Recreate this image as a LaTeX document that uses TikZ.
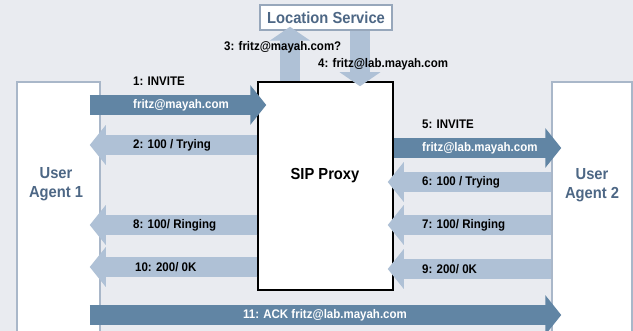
\documentclass[tikz,border=0pt]{standalone}
\usepackage{fontspec}
\setmainfont{Liberation Sans}[FakeStretch=0.92]
\usetikzlibrary{arrows.meta}

\definecolor{bg}{HTML}{E9EBF0}
\definecolor{darkflow}{HTML}{6185A4}
\definecolor{lightflow}{HTML}{AFC1D6}
\definecolor{agentline}{HTML}{A9B7C9}
\definecolor{agenttext}{HTML}{4D6785}

\tikzset{
  agent/.style={draw=agentline, line width=1.5pt, fill=white, minimum height=268pt, inner sep=0pt},
  proxybox/.style={draw=black, line width=1.5pt, fill=white, minimum width=135pt, minimum height=208pt, inner sep=0pt},
  locbox/.style={draw=agentline!80!agenttext, line width=1.5pt, fill=white, minimum width=132pt, minimum height=25pt, inner sep=0pt, text=agenttext, font=\bfseries\fontsize{16}{18.5}\selectfont},
  biglabel/.style={align=center, inner sep=0pt, font=\bfseries\fontsize{16}{18.5}\selectfont},
  msg/.style={anchor=west, inner sep=0pt, font=\bfseries\fontsize{12.5}{15}\selectfont},
  fwd/.style={darkflow, line width=20pt, -{Triangle[width=39pt,length=16pt]}},
  back/.style={lightflow, line width=20pt, -{Triangle[width=39pt,length=16pt]}},
  up/.style={lightflow, line width=20pt, -{Triangle[width=40pt,length=14pt]}}
}

\begin{document}
\begin{tikzpicture}[x=1pt, y=-1pt]
\useasboundingbox (0,0) rectangle (633,331);
\fill[bg] (0,0) rectangle (633,331);

% boxes
\node[agent, minimum width=83pt](UA1) at (58.5,216) {};
\node[agent, minimum width=80pt](UA2) at (592,216) {};
\node[proxybox](SIP) at (325.5,186) {};
\node[locbox](Loc) at (326,17.5) {Location Service};

\node[biglabel, text=agenttext](UA1label) at (56,184) {User\\Agent 1};
\node[biglabel, text=agenttext](UA2label) at (592,185) {User\\Agent 2};
\node[biglabel](SIPlabel) at (325,176) {SIP Proxy};

% lookup
\draw[up] (SIP.north -| 290,0) -- ([yshift=4pt]Loc.south -| 290,0);
\draw[up] (Loc.south -| 360,0) -- ([yshift=-5pt]SIP.north -| 360,0);
\node[msg](m3) at (224,47) {3: fritz@mayah.com?};
\node[msg](m4) at (318,64) {4: fritz@lab.mayah.com};

% left side
\draw[fwd] ([xshift=-11pt]UA1.east |- 0,105) -- ([xshift=9pt]SIP.west |- 0,105);
\node[msg](m1) at (133,81) {1: INVITE};
\node[msg, text=white](m1addr) at (133,105) {fritz@mayah.com};

\draw[back] (SIP.west |- 0,145) -- ([xshift=-11pt]UA1.east |- 0,145);
\node[msg](m2) at (133,145) {2: 100 / Trying};

\draw[back] (SIP.west |- 0,225) -- ([xshift=-11pt]UA1.east |- 0,225);
\node[msg](m8) at (133,225) {8: 100/ Ringing};

\draw[back] (SIP.west |- 0,267) -- ([xshift=-11pt]UA1.east |- 0,267);
\node[msg](m10) at (135,267) {10: 200/ 0K};

% right side
\draw[fwd] (SIP.east |- 0,148) -- ([xshift=10pt]UA2.west |- 0,148);
\node[msg](m5) at (422,124) {5: INVITE};
\node[msg, text=white](m5addr) at (422,148) {fritz@lab.mayah.com};

\draw[back] (UA2.west |- 0,182) -- ([xshift=-6pt]SIP.east |- 0,182);
\node[msg](m6) at (422,182) {6: 100 / Trying};

\draw[back] (UA2.west |- 0,225) -- ([xshift=-6pt]SIP.east |- 0,225);
\node[msg](m7) at (422,225) {7: 100/ Ringing};

\draw[back] (UA2.west |- 0,269) -- ([xshift=-6pt]SIP.east |- 0,269);
\node[msg](m9) at (422,269) {9: 200/ 0K};

% ack
\draw[fwd] ([xshift=-11pt]UA1.east |- 0,315) -- ([xshift=10pt]UA2.west |- 0,315);
\node[msg, anchor=center, text=white](m11) at (325,315) {11: ACK fritz@lab.mayah.com};
\end{tikzpicture}
\end{document}
